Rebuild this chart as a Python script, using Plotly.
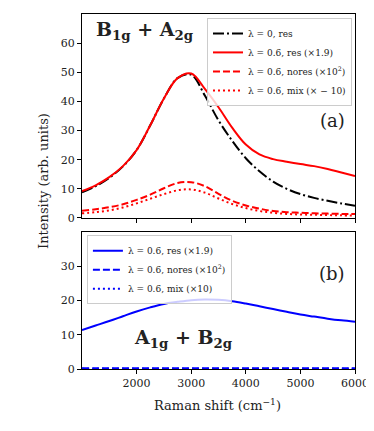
import plotly.graph_objects as go

# --- Data ---
RAMAN_SHIFT = [1000, 1250, 1500, 1750, 2000, 2250, 2500, 2750, 3000, 3250, 3500,
               3750, 4000, 4250, 4500, 4750, 5000, 5250, 5500, 5750, 6000]

# panel (a): B1g + A2g
b1g_l0_res = [8.8, 10.9, 13.8, 17.7, 23.3, 31.8, 41.0, 48.0, 49.2, 42.0, 33.5,
              26.5, 20.5, 16.0, 12.5, 10.0, 8.2, 6.9, 5.9, 5.0, 4.2]
b1g_l06_res = [9.2, 11.2, 14.0, 17.8, 23.3, 31.8, 41.0, 48.0, 49.6, 44.3, 38.0,
               31.0, 25.2, 21.8, 20.2, 19.3, 18.5, 17.8, 16.8, 15.6, 14.4]
b1g_l06_nores = [2.5, 3.0, 3.7, 4.7, 6.2, 8.0, 10.2, 12.0, 12.3, 10.9, 8.3,
                 5.9, 4.3, 3.2, 2.4, 2.0, 1.8, 1.6, 1.5, 1.4, 1.4]
b1g_l06_mix = [1.6, 2.0, 2.6, 3.6, 5.0, 6.6, 8.2, 9.5, 9.8, 8.7, 6.7,
               4.8, 3.4, 2.4, 1.8, 1.4, 1.2, 1.1, 1.0, 0.9, 0.9]

# panel (b): A1g + B2g
a1g_l06_res = [11.4, 12.7, 14.0, 15.4, 16.8, 18.0, 19.0, 19.6, 20.1, 20.3, 20.2,
               19.8, 19.1, 18.3, 17.5, 16.7, 15.9, 15.3, 14.7, 14.2, 13.8]
a1g_l06_nores = [0.2, 0.2, 0.2, 0.2, 0.2, 0.2, 0.2, 0.2, 0.2, 0.2, 0.2,
                 0.2, 0.2, 0.2, 0.2, 0.2, 0.2, 0.2, 0.2, 0.2, 0.2]
a1g_l06_mix = [0.1, 0.1, 0.1, 0.1, 0.1, 0.1, 0.1, 0.1, 0.1, 0.1, 0.1,
               0.1, 0.1, 0.1, 0.1, 0.1, 0.1, 0.1, 0.1, 0.1, 0.1]

X_TICKS = [2000, 3000, 4000, 5000, 6000]
Y_TICKS_A = [0, 10, 20, 30, 40, 50, 60]
Y_TICKS_B = [0, 10, 20, 30]

FONT = "DejaVu Serif"
TXT = "#222222"
RED, BLUE = "#ff0000", "#0000ff"
DASHDOT = "11px,3px,2px,3px"
DASH = "7px,3px"
DOT = "2px,3px"

fig = go.Figure()

top = [
    ("λ = 0, res", b1g_l0_res, "black", DASHDOT),
    ("λ = 0.6, res (×1.9)", b1g_l06_res, RED, "solid"),
    ("λ = 0.6, nores (×10<sup>2</sup>)", b1g_l06_nores, RED, DASH),
    ("λ = 0.6, mix (× − 10)", b1g_l06_mix, RED, DOT),
]
for name, y, color, dash in top:
    fig.add_trace(go.Scatter(x=RAMAN_SHIFT, y=y, name=name, mode="lines",
        line=dict(color=color, width=2, dash=dash, shape="spline"),
        xaxis="x", yaxis="y", legend="legend"))

bottom = [
    ("λ = 0.6, res (×1.9)", a1g_l06_res, BLUE, "solid"),
    ("λ = 0.6, nores (×10<sup>2</sup>)", a1g_l06_nores, BLUE, DASH),
    ("λ = 0.6, mix (×10)", a1g_l06_mix, BLUE, DOT),
]
for name, y, color, dash in bottom:
    fig.add_trace(go.Scatter(x=RAMAN_SHIFT, y=y, name=name, mode="lines",
        line=dict(color=color, width=2, dash=dash, shape="spline"),
        xaxis="x2", yaxis="y2", legend="legend2"))

axis_style = dict(showline=True, linecolor="black", linewidth=1, mirror=True,
                  ticks="outside", ticklen=4, tickcolor="black", showgrid=False,
                  zeroline=False, ticklabeloverflow="allow",
                  tickfont=dict(family=FONT, size=11, color=TXT))
legend_style = dict(yanchor="top", bgcolor="rgba(255,255,255,0.8)",
                    bordercolor="#cccccc", borderwidth=1, tracegroupgap=0,
                    font=dict(family=FONT, size=9, color=TXT))

# the page body adds an 8px margin on the left/top, so shrink the figure to fit
fig.update_layout(
    width=366, height=415,
    margin=dict(l=74, r=19, t=6, b=54),
    paper_bgcolor="white", plot_bgcolor="white",
    font=dict(family=FONT, color=TXT),
    xaxis=dict(domain=[0, 1], anchor="y", range=[1000, 6000], tickvals=X_TICKS,
               showticklabels=False, **axis_style),
    yaxis=dict(domain=[0.4254, 1], anchor="x", range=[0, 70], tickvals=Y_TICKS_A,
               **axis_style),
    xaxis2=dict(domain=[0, 1], anchor="y2", range=[1000, 6000], tickvals=X_TICKS,
                **axis_style),
    yaxis2=dict(domain=[0, 0.386], anchor="x2", range=[0, 40], tickvals=Y_TICKS_B,
                **axis_style),
    legend=dict(x=0.989, y=0.989, xanchor="right", **legend_style),
    legend2=dict(x=0.018, y=0.377, xanchor="left", **legend_style),
    showlegend=True,
)

annotations = [
    dict(text="<b>B<sub>1g</sub> + A<sub>2g</sub></b>", x=0.23, y=0.953, size=19),
    dict(text="(a)", x=0.916, y=0.701, size=18),
    dict(text="(b)", x=0.916, y=0.270, size=18),
    dict(text="<b>A<sub>1g</sub> + B<sub>2g</sub></b>", x=0.37, y=0.085, size=19),
    dict(text="Intensity (arb. units)", x=-0.139, y=0.53, size=13, textangle=-90),
    dict(text="Raman shift (cm<sup>−1</sup>)", x=0.498, y=-0.101, size=13),
]
for a in annotations:
    fig.add_annotation(text=a["text"], x=a["x"], y=a["y"], xref="paper", yref="paper",
                       xanchor="center", yanchor="middle", showarrow=False,
                       textangle=a.get("textangle", 0),
                       font=dict(family=FONT, size=a["size"], color=TXT))

fig.write_html("out.html")
